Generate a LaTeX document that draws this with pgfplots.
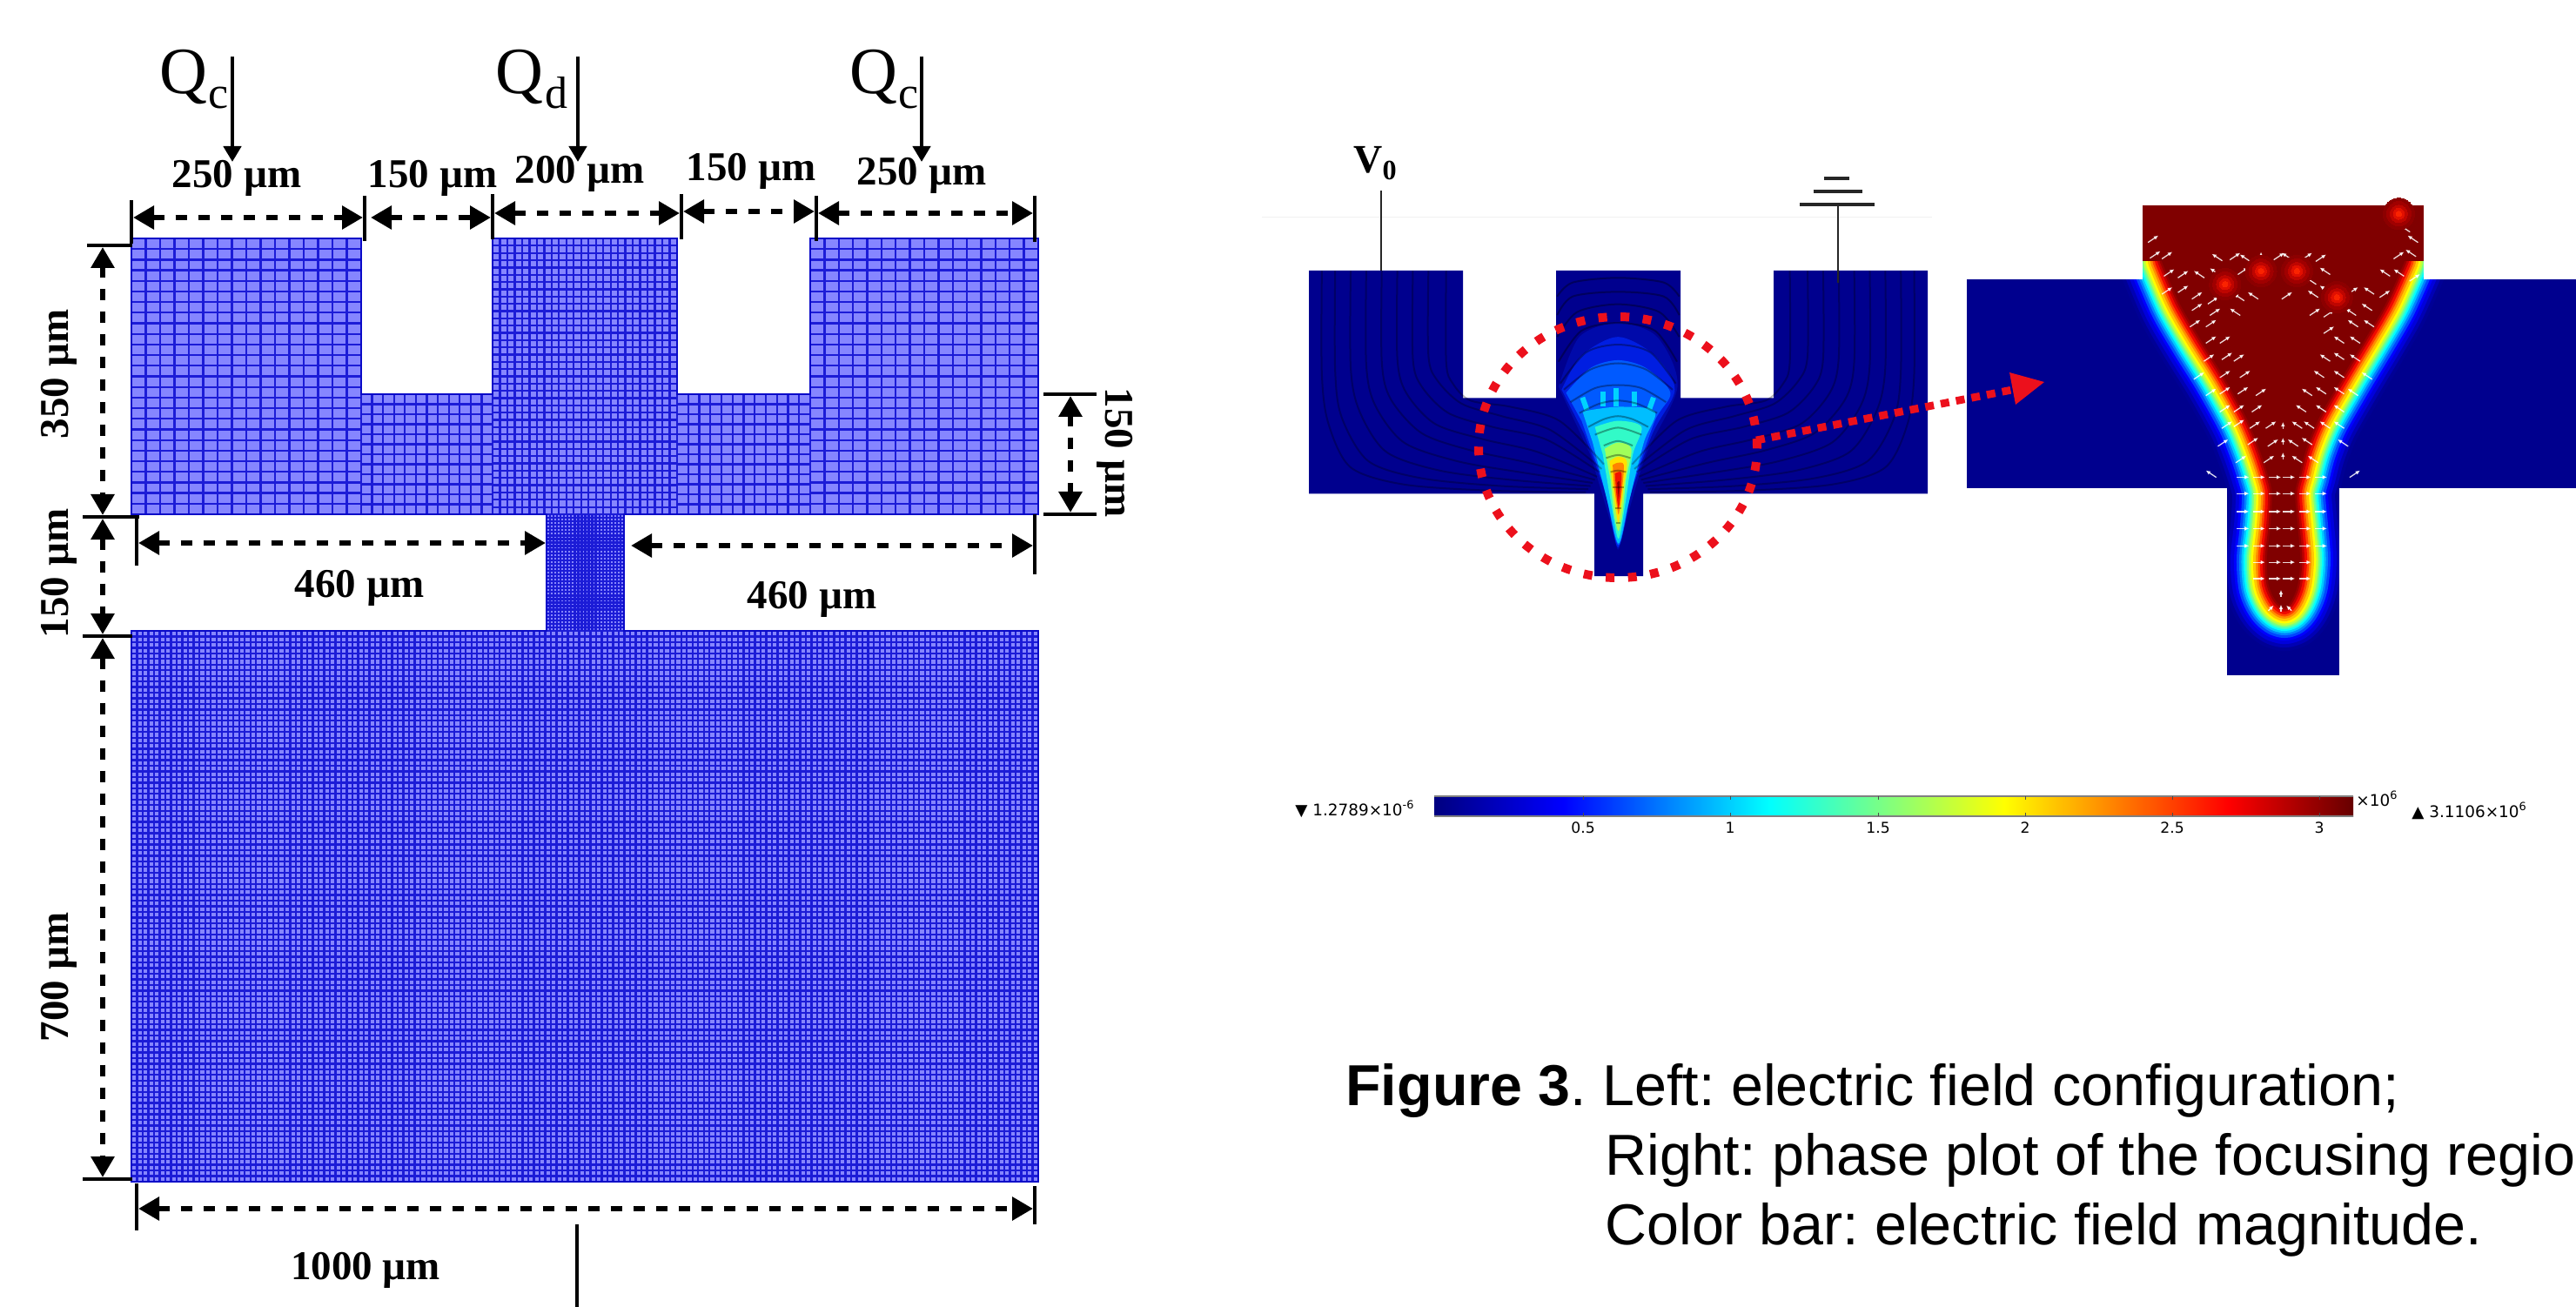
\documentclass[border=0pt]{standalone}
\usepackage{fontspec}
\usepackage{pgfplots}
\pgfplotsset{compat=1.18}
\usetikzlibrary{arrows.meta}
\setmainfont{Liberation Serif}
\newfontfamily\arial{Liberation Sans}
\newfontfamily\dvs{DejaVu Sans}
\definecolor{meshfill}{RGB}{134,134,255}
\definecolor{meshline}{RGB}{28,28,215}
\definecolor{meshedge}{RGB}{10,10,200}
\definecolor{deepblue}{RGB}{0,0,142}
\definecolor{deepred}{RGB}{128,0,0}
\definecolor{dotred}{RGB}{236,16,28}
\pgfdeclarehorizontalshading{jetbar}{100bp}{
 rgb(0bp)=(0,0,.5);
 rgb(25bp)=(0,0,.5);
 rgb(32bp)=(0,0,1);
 rgb(43.2bp)=(0,1,1);
 rgb(56bp)=(1,1,0);
 rgb(68.2bp)=(1,0,0);
 rgb(75bp)=(.4,0,0);
 rgb(100bp)=(.4,0,0)}
% mesh line lists
\newcommand\buildmesh[7]{%
 \gdef\tmpm{}%
 \foreach \i in {0,...,#6}{\pgfmathsetmacro\xx{#2+(#3-#2)/#6*\i}\xdef\tmpm{\tmpm (\xx,#4)(\xx,#5)(\xx,nan)}}%
 \foreach \i in {0,...,#7}{\pgfmathsetmacro\yy{#4+(#5-#4)/#7*\i}\xdef\tmpm{\tmpm (#2,\yy)(#3,\yy)(nan,\yy)}}%
 \global\expandafter\let\csname mesh#1\endcsname\tmpm}
\buildmesh{A}{151}{415}{274}{591}{16}{26}
\buildmesh{B}{415}{566}{453}{591}{12}{12}
\buildmesh{C}{566}{778}{274}{591}{25}{38}
\buildmesh{D}{778}{931}{453}{591}{12}{12}
\buildmesh{E}{931}{1193}{274}{591}{16}{26}
\buildmesh{F}{628}{717}{591}{725}{22}{33}
\buildmesh{G}{151}{1193}{725}{1358}{160}{98}
\newcommand\meshlines[1]{\addplot[meshline,line width=1.15pt,unbounded coords=jump] coordinates {\csname mesh#1\endcsname};}
\newcommand\band[4]{\addplot[smooth,line join=round,line width=#1pt,draw={rgb,255:red,#2;green,#3;blue,#4},fill={rgb,255:red,#2;green,#3;blue,#4}] coordinates {\funnelpts} -- cycle;}
\def\funnelpts{(2484,300)(2504,347)(2527,387)(2555,432)(2582,481)(2596,515)(2606,545)(2611,567)(2609,605)(2605,642)(2607,672)(2615,690)(2625,698)(2633,690)(2640,672)(2643,642)(2640,605)(2637,567)(2642,545)(2650,515)(2664,481)(2692,432)(2719,387)(2742,347)(2763,300)}
\newcommand\dimarrow[4]{\addplot[dimstyle] coordinates {(#1,#2)(#3,#4)};}
\newcommand\bline[4]{\addplot[black,line width=2.1pt] coordinates {(#1,#2)(#3,#4)};}
\newcommand\txt[4][0]{\node[anchor=center,inner sep=0pt,rotate=#1] at (axis cs:#2,#3) {\fontsize{23.5}{24}\selectfont\bfseries #4};}
\newcommand\qarrow[1]{\addplot[black,line width=2.2pt,-{Triangle[length=9pt,width=10pt]}] coordinates {(#1,65)(#1,186)};}
\newcommand\slinepair[1]{%
 \addplot[zl,smooth,black,opacity=.28,line width=1pt] coordinates {#1};
 \addplot[zlm,smooth,black,opacity=.28,line width=1pt] coordinates {#1};}
\newcommand\arcline[1]{\addplot[zl,smooth,black,opacity=.34,line width=1pt] coordinates {#1};}
\newcommand\fwedge[4]{\addplot[zl,smooth,draw=none,fill={rgb,255:red,#1;green,#2;blue,#3}] coordinates {#4} -- cycle;}
\newcommand\glowlayer[3]{\addplot[zr,only marks,mark=*,mark size=#1pt,mark options={line width=0pt,draw={rgb,255:red,#2;green,#3;blue,0},fill={rgb,255:red,#2;green,#3;blue,0}}] coordinates {\glowpts};}
\def\glowpts{(690,310)(780,270)(870,270)(970,350)(1125,95)}
\newcommand\qv[3]{\addplot[zrs={#1}{#2},white,opacity=.85,line width=.65pt,-{Latex[length=2.6pt,width=2.4pt]},quiver={u=#1,v=#2}] coordinates {#3};}
\begin{document}
\frenchspacing
\begin{tikzpicture}
\begin{axis}[at={(0,0)},anchor=south west,scale only axis,width=1480pt,height=751pt,
 xmin=0,xmax=2960,ymin=0,ymax=1502,y dir=reverse,hide axis,clip=false,
 dimstyle/.style={black,line width=3.1pt,dash pattern=on 6.5pt off 6.5pt,{Triangle[length=12pt,width=13pt]}-{Triangle[length=12pt,width=13pt]}},
 zl/.style={x filter/.expression={1450+x/1.96},y filter/.expression={130+y/2.8}},
 zlm/.style={x filter/.expression={1450+(1604-x)/1.96},y filter/.expression={130+y/2.8}},
 zr/.style={x filter/.expression={2240+x*.459},y filter/.expression={210+y*.376}},
 zrs/.style 2 args={x filter/.expression={2240+x*.459-#1/2},y filter/.expression={210+y*.376-#2/2}},
]
% ---------- mesh
\addplot[fill=meshfill,draw=none] coordinates {(151,274)(415,274)(415,453)(566,453)(566,274)(778,274)(778,453)(931,453)(931,274)(1193,274)(1193,591)(717,591)(717,725)(1193,725)(1193,1358)(151,1358)(151,725)(628,725)(628,591)(151,591)} -- cycle;
\meshlines{A}\meshlines{B}\meshlines{C}\meshlines{D}\meshlines{E}\meshlines{F}\meshlines{G}
\addplot[draw=meshedge,line width=1.4pt] coordinates {(151,274)(415,274)(415,453)(566,453)(566,274)(778,274)(778,453)(931,453)(931,274)(1193,274)(1193,591)(717,591)(717,725)(1193,725)(1193,1358)(151,1358)(151,725)(628,725)(628,591)(151,591)} -- cycle;
% ---------- Q labels
\node[anchor=base west,inner sep=0pt] at (axis cs:183,108) {\fontsize{38}{40}\selectfont Q};
\node[anchor=base west,inner sep=0pt] at (axis cs:239,125) {\fontsize{26}{28}\selectfont c};
\node[anchor=base west,inner sep=0pt] at (axis cs:569,108) {\fontsize{38}{40}\selectfont Q};
\node[anchor=base west,inner sep=0pt] at (axis cs:626,125) {\fontsize{26}{28}\selectfont d};
\node[anchor=base west,inner sep=0pt] at (axis cs:976,108) {\fontsize{38}{40}\selectfont Q};
\node[anchor=base west,inner sep=0pt] at (axis cs:1032,125) {\fontsize{26}{28}\selectfont c};
\qarrow{267}\qarrow{664}\qarrow{1059}
% ---------- top dimensions
\bline{151}{230}{151}{280}\bline{419}{225}{419}{277}\bline{566}{223}{566}{275}\bline{783}{223}{783}{275}\bline{938}{225}{938}{277}\bline{1189}{225}{1189}{278}
\dimarrow{153}{250}{417}{250}\dimarrow{426}{250}{564}{250}\dimarrow{568}{245}{781}{245}\dimarrow{785}{243}{936}{243}\dimarrow{940}{245}{1187}{245}
\txt{272}{205}{250 µm}\txt{497}{205}{150 µm}\txt{666}{200}{200 µm}\txt{863}{197}{150 µm}\txt{1059}{202}{250 µm}
% ---------- left dimensions
\bline{100}{282}{152}{282}\bline{95}{594}{160}{594}\bline{95}{731}{152}{731}\bline{95}{1355}{152}{1355}
\dimarrow{118}{284}{118}{592}\dimarrow{118}{596}{118}{729}\dimarrow{118}{733}{118}{1353}
\txt[90]{68}{430}{350 µm}\txt[90]{68}{659}{150 µm}\txt[90]{68}{1123}{700 µm}
% ---------- right 150
\bline{1199}{453}{1260}{453}\bline{1199}{591}{1260}{591}
\dimarrow{1230}{455}{1230}{589}
\txt[-90]{1281}{520}{150 µm}
% ---------- 460
\bline{157}{595}{157}{650}\bline{1189}{591}{1189}{660}
\dimarrow{159}{624}{627}{624}\dimarrow{725}{627}{1187}{627}
\txt{413}{676}{460 µm}\txt{933}{689}{460 µm}
% ---------- 1000
\bline{157}{1360}{157}{1414}\bline{1189}{1363}{1189}{1407}
\dimarrow{159}{1389}{1187}{1389}
\txt{420}{1460}{1000 µm}
\bline{663}{1407}{663}{1502}
% ---------- left field panel
\addplot[gray!12,line width=.5pt] coordinates {(1450,250)(2220,250)};
\addplot[fill=deepblue,draw=none] coordinates {(1504,311)(1681,311)(1681,457.5)(1788,457.5)(1788,311)(1931,311)(1931,457.5)(2038,457.5)(2038,311)(2215,311)(2215,567.5)(1888,567.5)(1888,662)(1832,662)(1832,567.5)(1504,567.5)} -- cycle;
\fwedge{0}{10}{170}{(668,880)(715,720)(802,675)(890,720)(936,880)(865,1100)(815,1340)(802,1405)(790,1340)(740,1100)}
\fwedge{0}{30}{225}{(675,890)(720,780)(802,720)(885,780)(930,890)(880,1030)(830,1230)(802,1398)(775,1230)(725,1030)}
\fwedge{0}{90}{255}{(685,900)(740,820)(802,795)(865,820)(920,900)(885,990)(835,1200)(803,1390)(770,1200)(720,990)}
\fwedge{0}{190}{255}{(722,960)(802,945)(885,960)(860,1060)(825,1260)(803,1385)(780,1260)(745,1060)}
\fwedge{50}{250}{200}{(750,1010)(802,990)(855,1010)(835,1100)(818,1260)(803,1370)(787,1260)(768,1100)}
\fwedge{160}{255}{90}{(772,1080)(802,1060)(832,1080)(820,1180)(812,1290)(803,1345)(793,1290)(785,1180)}
\fwedge{255}{225}{0}{(783,1120)(802,1105)(822,1120)(815,1200)(808,1280)(803,1320)(797,1280)(790,1200)}
\fwedge{255}{130}{0}{(790,1132)(802,1125)(815,1132)(812,1200)(807,1260)(803,1292)(799,1260)(793,1200)}
\fwedge{240}{20}{0}{(795,1160)(802,1155)(810,1160)(808,1220)(803,1272)(798,1220)}
\fwedge{150}{0}{0}{(800,1190)(803,1185)(806,1190)(803,1240)}
\addplot[zl,draw={rgb,255:red,0;green,210;blue,255},line width=3pt] coordinates {(722,915)(732,955)};
\addplot[zl,draw={rgb,255:red,0;green,210;blue,255},line width=3pt] coordinates {(768,895)(768,945)};
\addplot[zl,draw={rgb,255:red,0;green,210;blue,255},line width=3pt] coordinates {(797,885)(797,945)};
\addplot[zl,draw={rgb,255:red,0;green,210;blue,255},line width=3pt] coordinates {(838,895)(838,945)};
\addplot[zl,draw={rgb,255:red,0;green,210;blue,255},line width=3pt] coordinates {(882,915)(872,955)};
\slinepair{(135,507)(135,840)(150,1000)(200,1140)(320,1195)(520,1215)(730,1220)}
\slinepair{(165,507)(165,830)(180,980)(240,1120)(360,1175)(540,1200)(735,1210)}
\slinepair{(200,507)(200,820)(220,960)(280,1090)(400,1150)(560,1180)(740,1200)}
\slinepair{(235,507)(235,810)(255,940)(320,1060)(440,1120)(580,1155)(745,1190)}
\slinepair{(270,507)(270,800)(290,920)(360,1030)(470,1085)(600,1125)(750,1180)}
\slinepair{(305,507)(305,790)(325,900)(390,1000)(500,1050)(620,1090)(755,1170)}
\slinepair{(340,507)(340,790)(360,880)(420,965)(520,1010)(640,1050)(760,1155)}
\slinepair{(375,507)(375,780)(395,860)(450,935)(540,975)(650,1020)(765,1145)}
\slinepair{(415,507)(415,800)(430,870)(470,925)(560,945)(670,990)(770,1130)}
\arcline{(665,590)(700,545)(802,530)(905,545)(940,590)}
\arcline{(665,650)(700,590)(802,575)(905,590)(940,650)}
\arcline{(665,720)(710,640)(802,615)(895,640)(940,720)}
\arcline{(668,800)(720,700)(802,675)(885,700)(935,800)}
\arcline{(672,870)(730,770)(802,745)(875,770)(932,870)}
\arcline{(680,890)(740,825)(802,805)(865,825)(925,890)}
\arcline{(695,930)(750,885)(802,875)(855,885)(910,930)}
\arcline{(715,965)(760,935)(802,925)(845,935)(890,965)}
\arcline{(735,1010)(770,985)(802,975)(835,985)(870,1010)}
\arcline{(750,1035)(802,1012)(855,1035)}
\arcline{(770,1070)(802,1055)(835,1070)}
\arcline{(775,1110)(802,1100)(830,1110)}
\arcline{(785,1155)(802,1150)(820,1155)}
\arcline{(790,1205)(815,1205)}
\arcline{(795,1270)(810,1270)}
\arcline{(797,1320)(808,1320)}
\addplot[zl,black!85,line width=1pt] coordinates {(268,250)(268,507)};
\addplot[zl,black!85,line width=1pt] coordinates {(1297,295)(1297,545)};
\addplot[zl,black!85,line width=2pt] coordinates {(1212,295)(1380,295)};
\addplot[zl,black!85,line width=2pt] coordinates {(1242,252)(1352,252)};
\addplot[zl,black!85,line width=2pt] coordinates {(1267,211)(1323,211)};
\node[anchor=base west,inner sep=0pt] at (axis cs:1555,199) {\fontsize{23}{25}\selectfont\bfseries V\textsubscript{0}};
% ---------- right field panel
\addplot[fill=deepblue,draw=none] coordinates {(2260,321)(2960,321)(2960,561)(2688,561)(2688,776)(2559,776)(2559,561)(2260,561)} -- cycle;
\band{50}{0}{0}{150}\band{46}{0}{0}{180}\band{42}{0}{0}{220}\band{38}{0}{0}{255}\band{35}{0}{70}{255}\band{32}{0}{130}{255}\band{29.5}{0}{200}{255}\band{27}{0}{255}{255}\band{25}{60}{255}{200}\band{23}{120}{255}{130}\band{21}{190}{255}{60}\band{18.5}{255}{255}{0}\band{16}{255}{200}{0}\band{13}{255}{140}{0}\band{10.5}{255}{70}{0}\band{8}{240}{10}{0}\band{5}{190}{0}{0}\band{2.5}{150}{0}{0}\band{.1}{128}{0}{0}
% masks outside the device outline
\addplot[fill=white,draw=none] coordinates {(2225,190)(2960,190)(2960,236)(2225,236)} -- cycle;
\addplot[fill=white,draw=none] coordinates {(2225,236)(2462,236)(2462,321)(2225,321)} -- cycle;
\addplot[fill=white,draw=none] coordinates {(2785,236)(2960,236)(2960,321)(2785,321)} -- cycle;
\addplot[fill=white,draw=none] coordinates {(2225,561)(2559,561)(2559,800)(2225,800)} -- cycle;
\addplot[fill=white,draw=none] coordinates {(2688,561)(2960,561)(2960,800)(2688,800)} -- cycle;
\addplot[fill=white,draw=none] coordinates {(2559,776)(2688,776)(2688,800)(2559,800)} -- cycle;
\addplot[fill=deepred,draw=none] coordinates {(2462,236)(2785,236)(2785,300)(2462,300)} -- cycle;
\glowlayer{9}{140}{0}\glowlayer{7}{160}{0}\glowlayer{5}{190}{5}\glowlayer{3.2}{225}{15}\glowlayer{1.6}{250}{35}
\qv{12}{-8}{(510,172)(515,220)(545,222)(715,225)(825,225)(895,225)(930,230)(1125,222)(550,275)(585,280)(735,270)(1165,290)(545,330)(585,325)(620,345)(660,360)(845,345)(1010,330)(1090,340)(620,380)(665,395)(915,395)(950,400)(615,430)(655,430)(950,450)(655,480)(690,480)(650,535)(695,530)(725,535)(625,590)(690,585)(740,585)(655,640)(690,635)(735,635)(780,640)(690,690)(725,690)(770,690)(695,740)(725,735)(765,740)(805,740)(685,795)(760,790)(810,795)(730,845)(800,845)(1015,890)}
\qv{-12}{-8}{(670,228)(740,230)(845,225)(1155,215)(1160,172)(1140,140)(625,280)(665,272)(940,270)(1090,275)(1125,275)(725,350)(760,345)(905,300)(910,340)(940,325)(1050,330)(715,395)(1005,395)(1045,380)(1010,430)(1050,430)(975,480)(1015,480)(940,535)(975,530)(1015,535)(925,585)(975,585)(1045,590)(895,640)(930,635)(975,635)(1010,640)(880,690)(930,690)(975,690)(870,740)(900,740)(940,740)(975,740)(860,795)(895,790)(985,795)(870,845)(910,845)(655,890)}
\qv{0}{-8}{(780,222)(780,300)(835,742)(835,790)(835,835)(830,1255)(830,1300)}
\qv{6}{-6}{(805,1300)}
\qv{-6}{-6}{(850,1300)}
\qv{14}{0}{(735,900)(775,900)(815,900)(850,900)(890,900)(930,900)(735,950)(775,950)(815,950)(850,950)(890,950)(930,950)(735,1005)(775,1005)(815,1005)(850,1005)(890,1005)(930,1005)(735,1057)(775,1057)(815,1057)(850,1057)(890,1057)(930,1057)(735,1110)(775,1110)(815,1110)(850,1110)(890,1110)(930,1110)(775,1160)(815,1160)(850,1160)(890,1160)(775,1210)(815,1210)(850,1210)(890,1210)}
% ---------- red dotted annotations
\draw[dotred,line width=5pt,dash pattern=on 5pt off 7.8pt] (axis cs:1859,514) ellipse [x radius=80pt,y radius=75pt];
\addplot[dotred,line width=4.4pt,dash pattern=on 5pt off 4pt] coordinates {(2018,506)(2312,448)};
\addplot[fill=dotred,draw=none] coordinates {(2309,428)(2316,465)(2349,439)} -- cycle;
% ---------- colour bar
\shade[shading=jetbar] (axis cs:1648,915) rectangle (axis cs:2704,938);
\addplot[black!50,line width=.6pt] coordinates {(1648,915)(2704,915)};
\addplot[black!50,line width=.6pt] coordinates {(1648,938)(2704,938)};
\foreach \px/\lab in {1819/0.5,1988/1,2158/1.5,2327/2,2496/2.5,2665/3}{
 \edef\tmp{\noexpand\addplot[black!70,line width=.35pt] coordinates {(\px,915)(\px,919)};
 \noexpand\addplot[black!70,line width=.35pt] coordinates {(\px,934)(\px,938)};
 \noexpand\node[anchor=center,inner sep=0pt] at (axis cs:\px,951) {\noexpand\dvs\noexpand\fontsize{8.6}{9}\noexpand\selectfont \lab};}
 \tmp}
\node[anchor=west,inner sep=0pt] at (axis cs:1488,930) {\dvs\fontsize{9.2}{10}\selectfont ▼ 1.2789×10\textsuperscript{-6}};
\node[anchor=west,inner sep=0pt] at (axis cs:2707,918) {\dvs\fontsize{9.2}{10}\selectfont ×10\textsuperscript{6}};
\node[anchor=west,inner sep=0pt] at (axis cs:2771,932) {\dvs\fontsize{9.2}{10}\selectfont ▲ 3.1106×10\textsuperscript{6}};
% ---------- caption
\node[anchor=base west,inner sep=0pt] at (axis cs:1546,1270) {\arial\fontsize{33.2}{36}\selectfont\textbf{Figure 3}. Left: electric field configuration;};
\node[anchor=base west,inner sep=0pt] at (axis cs:1844,1350) {\arial\fontsize{33.2}{36}\selectfont Right: phase plot of the focusing regio};
\node[anchor=base west,inner sep=0pt] at (axis cs:1844,1430) {\arial\fontsize{33.2}{36}\selectfont Color bar: electric field magnitude.};
\end{axis}
\pgfresetboundingbox
\path[use as bounding box] (0,0) rectangle (1480pt,751pt);
\end{tikzpicture}
\end{document}
